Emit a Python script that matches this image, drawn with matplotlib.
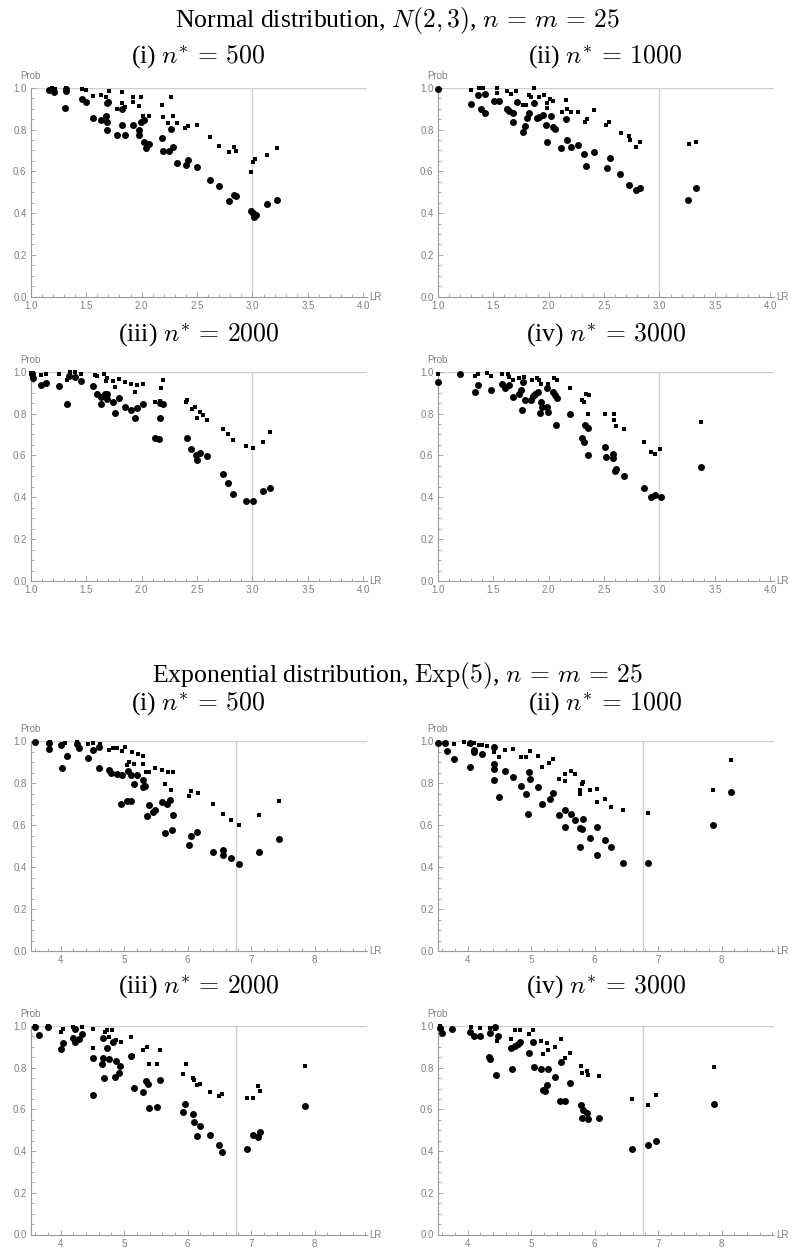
import matplotlib
matplotlib.use("Agg")
import matplotlib.pyplot as plt
from matplotlib.ticker import MultipleLocator

plt.rcParams['mathtext.fontset'] = 'cm'

# ---- Normal distribution, n* = 500
n500_circ_lr = [1.168, 1.214, 1.319, 1.319, 1.310, 1.460, 1.499, 1.565, 1.635, 1.680, 1.692, 1.686,
                1.701, 1.692, 1.782, 1.821, 1.854, 1.920, 1.974, 1.980, 1.998, 2.023, 2.023, 2.041,
                2.065, 2.185, 2.197, 2.245, 2.263, 2.281, 2.317, 2.401, 2.414, 2.498, 2.618, 2.696,
                2.792, 2.829, 2.853, 2.991, 3.009, 3.018, 3.030, 3.135, 3.220, 1.821]
n500_circ_p = [0.989, 0.979, 0.992, 0.984, 0.903, 0.944, 0.933, 0.856, 0.845, 0.864, 0.837, 0.797,
               0.933, 0.925, 0.775, 0.823, 0.775, 0.823, 0.797, 0.775, 0.836, 0.845, 0.742, 0.711,
               0.730, 0.759, 0.699, 0.699, 0.804, 0.718, 0.641, 0.632, 0.654, 0.622, 0.558, 0.530,
               0.459, 0.488, 0.482, 0.411, 0.399, 0.383, 0.392, 0.443, 0.463, 0.896]
n500_sq_lr = [1.189, 1.220, 1.319, 1.460, 1.499, 1.565, 1.632, 1.680, 1.707, 1.776, 1.821, 1.821,
              1.854, 1.920, 1.926, 1.974, 1.998, 2.017, 2.065, 2.185, 2.191, 2.239, 2.263, 2.281,
              2.317, 2.395, 2.414, 2.498, 2.618, 2.696, 2.792, 2.829, 2.853, 2.991, 3.003, 3.027,
              3.135, 3.220]
n500_sq_p = [0.997, 0.995, 0.997, 0.992, 0.989, 0.960, 0.967, 0.954, 0.984, 0.896, 0.979, 0.928,
             0.909, 0.931, 0.957, 0.912, 0.955, 0.864, 0.864, 0.919, 0.861, 0.833, 0.955, 0.864,
             0.833, 0.807, 0.817, 0.823, 0.766, 0.721, 0.692, 0.715, 0.699, 0.596, 0.644, 0.657,
             0.678, 0.711]

# ---- Normal distribution, n* = 1000
n1000_circ_lr = [1.000, 1.299, 1.365, 1.389, 1.425, 1.431, 1.509, 1.557, 1.629, 1.647, 1.683, 1.683,
                 1.713, 1.772, 1.790, 1.808, 1.826, 1.868, 1.892, 1.916, 1.952, 1.976, 1.988, 2.018,
                 2.042, 2.054, 2.114, 2.156, 2.162, 2.198, 2.269, 2.323, 2.341, 2.407, 2.527, 2.551,
                 2.647, 2.725, 2.790, 2.826, 3.257, 3.329]
n1000_circ_p = [0.995, 0.922, 0.963, 0.899, 0.968, 0.877, 0.938, 0.938, 0.899, 0.888, 0.880, 0.838,
                0.931, 0.787, 0.816, 0.856, 0.880, 0.928, 0.856, 0.861, 0.867, 0.822, 0.742, 0.864,
                0.810, 0.803, 0.710, 0.848, 0.749, 0.714, 0.728, 0.682, 0.627, 0.694, 0.618, 0.666,
                0.589, 0.534, 0.512, 0.522, 0.461, 0.522]
n1000_sq_lr = [1.299, 1.371, 1.413, 1.533, 1.533, 1.623, 1.659, 1.707, 1.766, 1.796, 1.826, 1.844,
               1.868, 1.910, 1.958, 1.982, 1.982, 2.012, 2.042, 2.120, 2.156, 2.168, 2.198, 2.269,
               2.329, 2.347, 2.407, 2.521, 2.545, 2.653, 2.725, 2.731, 2.790, 2.820, 3.263, 3.329]
n1000_sq_p = [0.989, 1.000, 1.000, 0.998, 0.976, 0.982, 0.970, 0.982, 0.918, 0.918, 0.966, 0.957,
              0.998, 0.954, 0.966, 0.928, 0.902, 0.944, 0.934, 0.883, 0.941, 0.896, 0.883, 0.883,
              0.838, 0.848, 0.893, 0.822, 0.835, 0.781, 0.771, 0.749, 0.714, 0.742, 0.733, 0.739]

# ---- Normal distribution, n* = 2000
n2000_circ_lr = [1.012, 1.024, 1.090, 1.138, 1.252, 1.324, 1.342, 1.402, 1.450, 1.565, 1.595, 1.631,
                 1.631, 1.667, 1.685, 1.691, 1.745, 1.757, 1.793, 1.847, 1.901, 1.943, 1.961, 2.009,
                 2.117, 2.159, 2.165, 2.195, 2.165, 2.405, 2.447, 2.495, 2.502, 2.526, 2.586, 2.730,
                 2.778, 2.820, 2.946, 3.006, 3.096, 3.156]
n2000_circ_p = [0.987, 0.968, 0.936, 0.946, 0.933, 0.847, 0.978, 0.975, 0.955, 0.933, 0.895, 0.847,
                0.879, 0.892, 0.869, 0.892, 0.857, 0.803, 0.876, 0.831, 0.818, 0.777, 0.828, 0.847,
                0.685, 0.678, 0.780, 0.847, 0.850, 0.685, 0.631, 0.602, 0.580, 0.611, 0.596, 0.513,
                0.468, 0.417, 0.382, 0.382, 0.430, 0.446]
n2000_sq_lr = [1.000, 1.024, 1.090, 1.138, 1.252, 1.324, 1.354, 1.402, 1.450, 1.577, 1.601, 1.661,
               1.679, 1.691, 1.745, 1.757, 1.793, 1.847, 1.901, 1.943, 1.961, 2.009, 2.117, 2.165,
               2.171, 2.195, 2.399, 2.405, 2.453, 2.483, 2.502, 2.526, 2.550, 2.586, 2.730, 2.778,
               2.820, 2.946, 3.006, 3.096, 3.156]
n2000_sq_p = [0.994, 0.994, 0.984, 0.990, 0.990, 0.959, 0.997, 0.997, 0.990, 0.984, 0.978, 0.990,
              0.955, 0.968, 0.955, 0.927, 0.965, 0.949, 0.943, 0.904, 0.936, 0.943, 0.857, 0.860,
              0.924, 0.962, 0.854, 0.863, 0.822, 0.831, 0.777, 0.809, 0.793, 0.771, 0.726, 0.704,
              0.672, 0.646, 0.637, 0.666, 0.710]

# ---- Normal distribution, n* = 3000
n3000_circ_lr = [1.000, 1.204, 1.335, 1.365, 1.485, 1.581, 1.605, 1.641, 1.683, 1.731, 1.749, 1.760,
                 1.790, 1.772, 1.838, 1.856, 1.874, 1.904, 1.934, 1.940, 1.922, 1.982, 1.994, 1.988,
                 2.042, 2.054, 2.072, 2.066, 2.192, 2.299, 2.317, 2.329, 2.353, 2.353, 2.509, 2.515,
                 2.581, 2.581, 2.599, 2.611, 2.683, 2.862, 2.928, 2.958, 3.012, 3.377]
n3000_circ_p = [0.952, 0.990, 0.904, 0.936, 0.914, 0.939, 0.920, 0.936, 0.879, 0.895, 0.911, 0.818,
                0.863, 0.949, 0.866, 0.882, 0.892, 0.904, 0.857, 0.831, 0.803, 0.831, 0.806, 0.920,
                0.904, 0.889, 0.873, 0.745, 0.799, 0.685, 0.666, 0.745, 0.732, 0.602, 0.640, 0.592,
                0.608, 0.586, 0.525, 0.535, 0.500, 0.446, 0.401, 0.411, 0.401, 0.545]
n3000_sq_lr = [1.000, 1.335, 1.365, 1.443, 1.485, 1.581, 1.635, 1.641, 1.683, 1.731, 1.778, 1.850,
               1.898, 1.910, 1.934, 1.988, 1.994, 2.048, 2.078, 2.192, 2.299, 2.323, 2.335, 2.365,
               2.353, 2.509, 2.587, 2.593, 2.611, 2.683, 2.862, 2.928, 2.958, 3.006, 3.377]
n3000_sq_p = [0.987, 0.978, 0.987, 0.994, 0.978, 0.987, 0.990, 0.975, 0.962, 0.971, 0.975, 0.962,
              0.968, 0.959, 0.943, 0.924, 0.943, 0.968, 0.959, 0.920, 0.866, 0.857, 0.895, 0.889,
              0.799, 0.799, 0.799, 0.768, 0.742, 0.726, 0.666, 0.618, 0.608, 0.631, 0.761]

# ---- Exponential distribution, n* = 500
e500_circ_lr = [3.601, 3.822, 3.822, 4.011, 4.021, 4.095, 4.263, 4.284, 4.431, 4.504, 4.609, 4.599,
                4.756, 4.798, 4.882, 4.945, 4.966, 5.040, 5.061, 5.103, 5.113, 5.155, 5.208, 5.292,
                5.302, 5.334, 5.355, 5.397, 5.449, 5.491, 5.596, 5.649, 5.680, 5.722, 5.754, 5.764,
                6.016, 6.058, 6.153, 6.405, 6.552, 6.562, 6.678, 6.804, 7.119, 7.433]
e500_circ_p = [0.995, 0.992, 0.963, 0.982, 0.874, 0.932, 0.989, 0.970, 0.922, 0.957, 0.973, 0.874,
               0.865, 0.849, 0.842, 0.702, 0.839, 0.715, 0.858, 0.715, 0.839, 0.798, 0.839, 0.814,
               0.782, 0.788, 0.645, 0.696, 0.664, 0.674, 0.709, 0.562, 0.702, 0.722, 0.578, 0.648,
               0.505, 0.550, 0.569, 0.470, 0.483, 0.457, 0.445, 0.413, 0.470, 0.534]
e500_sq_lr = [3.832, 4.021, 4.074, 4.252, 4.431, 4.504, 4.620, 4.767, 4.819, 4.882, 4.966, 5.019,
              5.050, 5.071, 5.124, 5.155, 5.218, 5.292, 5.302, 5.344, 5.397, 5.491, 5.596, 5.649,
              5.691, 5.733, 5.775, 6.016, 6.058, 6.163, 6.405, 6.552, 6.678, 6.804, 7.119, 7.433]
e500_sq_p = [0.995, 0.989, 0.992, 0.995, 0.986, 0.992, 0.989, 0.957, 0.967, 0.967, 0.954, 0.973,
             0.887, 0.900, 0.951, 0.893, 0.938, 0.893, 0.928, 0.855, 0.852, 0.874, 0.865, 0.798,
             0.852, 0.766, 0.855, 0.741, 0.763, 0.753, 0.702, 0.655, 0.623, 0.601, 0.648, 0.715]

# ---- Exponential distribution, n* = 1000
e1000_circ_lr = [3.530, 3.643, 3.675, 3.790, 4.031, 4.031, 4.094, 4.105, 4.230, 4.409, 4.409, 4.409,
                 4.419, 4.492, 4.587, 4.712, 4.838, 4.922, 4.943, 4.964, 4.975, 5.111, 5.163, 5.289,
                 5.341, 5.436, 5.530, 5.540, 5.635, 5.687, 5.771, 5.771, 5.803, 5.824, 5.928, 6.044,
                 6.044, 6.159, 6.264, 6.442, 6.840, 7.868, 8.140]
e1000_circ_p = [0.992, 0.992, 0.954, 0.916, 0.992, 0.877, 0.957, 0.947, 0.938, 0.973, 0.893, 0.868,
                0.814, 0.734, 0.858, 0.830, 0.788, 0.750, 0.655, 0.855, 0.820, 0.782, 0.702, 0.725,
                0.753, 0.648, 0.671, 0.591, 0.655, 0.623, 0.588, 0.496, 0.582, 0.629, 0.540, 0.591,
                0.457, 0.527, 0.496, 0.419, 0.422, 0.601, 0.758]
e1000_sq_lr = [3.530, 3.790, 3.937, 4.021, 4.105, 4.178, 4.230, 4.304, 4.419, 4.492, 4.587, 4.712,
               4.838, 4.912, 4.975, 5.111, 5.163, 5.279, 5.341, 5.436, 5.530, 5.540, 5.635, 5.687,
               5.771, 5.771, 5.803, 5.824, 5.928, 6.044, 6.044, 6.159, 6.264, 6.442, 6.840, 7.868,
               8.140]
e1000_sq_p = [0.989, 0.986, 0.995, 0.989, 0.992, 0.982, 0.982, 0.979, 0.947, 0.925, 0.957, 0.963,
              0.925, 0.925, 0.954, 0.932, 0.877, 0.897, 0.916, 0.820, 0.842, 0.811, 0.858, 0.846,
              0.766, 0.750, 0.798, 0.807, 0.766, 0.772, 0.709, 0.725, 0.687, 0.674, 0.658, 0.769,
              0.911]

# ---- Exponential distribution, n* = 2000
e2000_circ_lr = [3.601, 3.654, 3.801, 4.010, 4.031, 4.199, 4.220, 4.220, 4.283, 4.336, 4.514, 4.514,
                 4.651, 4.661, 4.661, 4.682, 4.724, 4.756, 4.819, 4.850, 4.871, 4.913, 4.934, 5.102,
                 5.155, 5.302, 5.344, 5.375, 5.396, 5.512, 5.564, 5.932, 5.963, 6.089, 6.100, 6.142,
                 6.194, 6.352, 6.488, 6.541, 6.929, 7.024, 7.108, 7.139, 7.843]
e2000_circ_p = [0.995, 0.957, 0.995, 0.890, 0.918, 0.944, 0.986, 0.922, 0.938, 0.960, 0.845, 0.669,
                0.819, 0.941, 0.848, 0.752, 0.893, 0.842, 0.925, 0.755, 0.832, 0.774, 0.810, 0.858,
                0.704, 0.685, 0.736, 0.723, 0.608, 0.611, 0.742, 0.589, 0.624, 0.576, 0.541, 0.474,
                0.522, 0.477, 0.429, 0.397, 0.410, 0.477, 0.470, 0.493, 0.614]
e2000_sq_lr = [3.601, 3.801, 4.000, 4.031, 4.199, 4.336, 4.514, 4.514, 4.703, 4.724, 4.756, 4.808,
               4.871, 4.945, 5.102, 5.144, 5.302, 5.365, 5.396, 5.512, 5.564, 5.932, 5.974, 6.089,
               6.100, 6.152, 6.194, 6.352, 6.488, 6.541, 6.929, 7.024, 7.108, 7.139, 7.843]
e2000_sq_p = [1.000, 0.998, 0.970, 0.986, 0.995, 0.995, 0.986, 0.893, 0.970, 0.979, 0.947, 0.982,
              0.931, 0.922, 0.947, 0.858, 0.883, 0.899, 0.819, 0.819, 0.883, 0.768, 0.816, 0.752,
              0.739, 0.717, 0.723, 0.685, 0.662, 0.672, 0.656, 0.656, 0.714, 0.688, 0.810]

# ---- Exponential distribution, n* = 3000
e3000_circ_lr = [3.571, 3.592, 3.759, 4.042, 4.105, 4.188, 4.335, 4.356, 4.356, 4.429, 4.450, 4.471,
                 4.690, 4.701, 4.743, 4.785, 4.826, 4.973, 5.025, 5.046, 5.151, 5.192, 5.224, 5.255,
                 5.266, 5.381, 5.454, 5.475, 5.527, 5.611, 5.789, 5.799, 5.820, 5.883, 5.893, 6.071,
                 6.594, 6.835, 6.960, 7.881]
e3000_circ_p = [0.992, 0.967, 0.986, 0.970, 0.951, 0.954, 0.852, 0.842, 0.967, 0.995, 0.766, 0.954,
                0.896, 0.794, 0.906, 0.915, 0.925, 0.871, 0.925, 0.804, 0.794, 0.695, 0.686, 0.715,
                0.794, 0.756, 0.641, 0.829, 0.638, 0.727, 0.619, 0.561, 0.596, 0.584, 0.555, 0.561,
                0.408, 0.427, 0.447, 0.628]
e3000_sq_lr = [3.571, 4.052, 4.188, 4.345, 4.429, 4.460, 4.690, 4.753, 4.826, 4.973, 5.025, 5.151,
               5.192, 5.255, 5.266, 5.381, 5.475, 5.527, 5.611, 5.789, 5.799, 5.883, 5.893, 6.071,
               6.594, 6.835, 6.960, 7.881]
e3000_sq_p = [0.998, 0.995, 0.989, 0.992, 0.986, 0.928, 0.938, 0.982, 0.979, 0.963, 0.982, 0.928,
              0.868, 0.919, 0.887, 0.900, 0.938, 0.848, 0.871, 0.810, 0.775, 0.782, 0.766, 0.762,
              0.648, 0.619, 0.670, 0.804]

norm_cut = 3.0
exp_cut = 6.76

subtitles = [r'(i) $n^{*}\,=\,500$', r'(ii) $n^{*}\,=\,1000$',
             r'(iii) $n^{*}\,=\,2000$', r'(iv) $n^{*}\,=\,3000$']

AX_COL = '#9a9a9a'
TXT_COL = '#808080'
GRID_COL = '#d0d0d0'


def draw_panel(ax, c_lr, c_p, s_lr, s_p, kind):
    if kind == 'norm':
        ax.set_xlim(1.0, 4.03)
        ax.xaxis.set_major_locator(MultipleLocator(0.5))
        ax.xaxis.set_minor_locator(MultipleLocator(0.1))
        ax.xaxis.set_major_formatter(plt.FuncFormatter(lambda v, p: f'{v:.1f}'))
        cut = norm_cut
    else:
        ax.set_xlim(3.528, 8.82)
        ax.xaxis.set_major_locator(MultipleLocator(1))
        ax.xaxis.set_minor_locator(MultipleLocator(0.2))
        ax.xaxis.set_major_formatter(plt.FuncFormatter(lambda v, p: f'{v:.0f}'))
        cut = exp_cut
    ax.set_ylim(0, 1.0)
    ax.yaxis.set_major_locator(MultipleLocator(0.2))
    ax.yaxis.set_minor_locator(MultipleLocator(0.05))
    ax.yaxis.set_major_formatter(plt.FuncFormatter(lambda v, p: f'{v:.1f}'))

    ax.axhline(1.0, color=GRID_COL, lw=1.0, zorder=1)
    ax.axvline(cut, color=GRID_COL, lw=1.0, zorder=1)

    ax.scatter(s_lr, s_p, marker='s', s=11, c='black', linewidths=0, zorder=3, clip_on=False)
    ax.scatter(c_lr, c_p, marker='o', s=25, c='black', linewidths=0, zorder=4, clip_on=False)

    for side in ['top', 'right']:
        ax.spines[side].set_visible(False)
    for side in ['left', 'bottom']:
        ax.spines[side].set_color(AX_COL)
        ax.spines[side].set_linewidth(0.8)
    ax.tick_params(which='both', direction='in', color=AX_COL, width=0.6,
                   labelsize=7, labelcolor=TXT_COL, pad=3)
    ax.tick_params(which='major', length=3.5)
    ax.tick_params(which='minor', length=2)
    for lab in ax.get_xticklabels() + ax.get_yticklabels():
        lab.set_family('Liberation Sans')

    ax.annotate('Prob', xy=(0, 1), xycoords='axes fraction', xytext=(0, 8.5),
                textcoords='offset points', ha='center', va='center',
                fontsize=7, color=TXT_COL, family='Liberation Sans')
    ax.annotate('LR', xy=(1, 0), xycoords='axes fraction', xytext=(2, 0),
                textcoords='offset points', ha='left', va='center',
                fontsize=7, color=TXT_COL, family='Liberation Sans')


fig = plt.figure(figsize=(7.95, 12.5), dpi=100)
H = 1250.0
W = 795.0

lefts = [30.7 / W, 437.7 / W]
width = 336 / W
rows = [(87.7, 296.7), (371.7, 581.0), (741.3, 951.0), (1026.0, 1234.5)]

panels = [
    (n500_circ_lr, n500_circ_p, n500_sq_lr, n500_sq_p, 'norm'),
    (n1000_circ_lr, n1000_circ_p, n1000_sq_lr, n1000_sq_p, 'norm'),
    (n2000_circ_lr, n2000_circ_p, n2000_sq_lr, n2000_sq_p, 'norm'),
    (n3000_circ_lr, n3000_circ_p, n3000_sq_lr, n3000_sq_p, 'norm'),
    (e500_circ_lr, e500_circ_p, e500_sq_lr, e500_sq_p, 'exp'),
    (e1000_circ_lr, e1000_circ_p, e1000_sq_lr, e1000_sq_p, 'exp'),
    (e2000_circ_lr, e2000_circ_p, e2000_sq_lr, e2000_sq_p, 'exp'),
    (e3000_circ_lr, e3000_circ_p, e3000_sq_lr, e3000_sq_p, 'exp'),
]

for i, pan in enumerate(panels):
    r = i // 2
    c = i % 2
    top, bot = rows[r]
    ax = fig.add_axes([lefts[c], 1 - bot / H, width, (bot - top) / H])
    draw_panel(ax, *pan)

serif = 'Liberation Serif'
fig.text(0.5, 1 - 27 / H, r'Normal distribution, $N(2,3)$, $n\,=\,m\,=\,25$',
         ha='center', va='baseline', fontsize=18.5, family=serif)
fig.text(0.5, 1 - 682 / H, r'Exponential distribution, $\mathrm{Exp}(5)$, $n\,=\,m\,=\,25$',
         ha='center', va='baseline', fontsize=18.5, family=serif)

sub_y = [64, 342, 711, 994]
centers = [(30.7 + 366.7) / 2 / W, (437.7 + 773.7) / 2 / W]
for r in range(4):
    for c in range(2):
        fig.text(centers[c], 1 - sub_y[r] / H, subtitles[(r % 2) * 2 + c],
                 ha='center', va='baseline', fontsize=18.5, family=serif)

fig.savefig('out.png', dpi=100)
